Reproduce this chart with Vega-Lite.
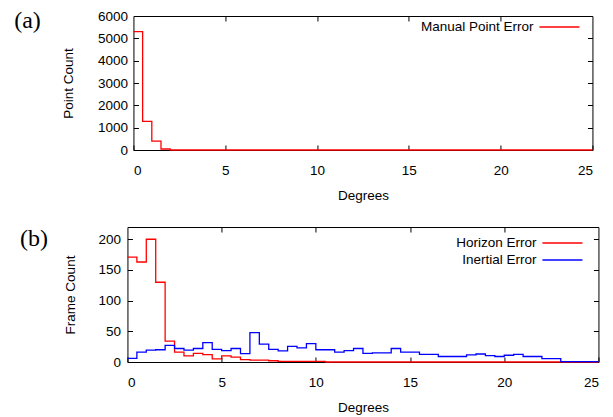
{
  "$schema": "https://vega.github.io/schema/vega-lite/v6.json",
  "padding": {"left": 13, "top": 8, "right": 5, "bottom": 0},
  "background": "white",
  "config": {
    "font": "Liberation Sans",
    "view": {"stroke": "black", "strokeWidth": 1},
    "axis": {
      "grid": false, "domain": false, "tickColor": "black", "tickSize": -5, "tickWidth": 1, "format": "d",
      "labelFont": "Liberation Sans", "labelFontSize": 13.5, "labelColor": "black",
      "titleFont": "Liberation Sans", "titleFontSize": 13.5, "titleFontWeight": "normal", "titleColor": "black"
    },
    "legend": {
      "orient": "none", "symbolType": "M-2.5,0H2.5", "symbolSize": 256, "symbolStrokeWidth": 1.3,
      "labelFont": "Liberation Sans", "labelFontSize": 13.5, "labelColor": "black",
      "labelAlign": "right", "labelOffset": -35, "rowPadding": 1, "padding": 0, "title": null
    },
    "title": {"font": "Liberation Serif", "fontSize": 24, "fontWeight": "normal", "color": "black", "orient": "left", "anchor": "end", "angle": 0, "offset": -6, "baseline": "top"}
  },
  "spacing": 23,
  "center": true,
  "resolve": {"scale": {"color": "independent"}, "legend": {"color": "independent"}},
  "vconcat": [
    {
      "width": 459, "height": 134,
      "title": {"text": "(a)"},
      "data": {"values": [
        {"deg": 0, "count": 5300, "series": "Manual Point Error"},
        {"deg": 0.5, "count": 1280, "series": "Manual Point Error"},
        {"deg": 1, "count": 400, "series": "Manual Point Error"},
        {"deg": 1.5, "count": 45, "series": "Manual Point Error"},
        {"deg": 2, "count": 0, "series": "Manual Point Error"},
        {"deg": 2.5, "count": 0, "series": "Manual Point Error"},
        {"deg": 3, "count": 0, "series": "Manual Point Error"},
        {"deg": 3.5, "count": 0, "series": "Manual Point Error"},
        {"deg": 4, "count": 0, "series": "Manual Point Error"},
        {"deg": 4.5, "count": 0, "series": "Manual Point Error"},
        {"deg": 5, "count": 0, "series": "Manual Point Error"},
        {"deg": 5.5, "count": 0, "series": "Manual Point Error"},
        {"deg": 6, "count": 0, "series": "Manual Point Error"},
        {"deg": 6.5, "count": 0, "series": "Manual Point Error"},
        {"deg": 7, "count": 0, "series": "Manual Point Error"},
        {"deg": 7.5, "count": 0, "series": "Manual Point Error"},
        {"deg": 8, "count": 0, "series": "Manual Point Error"},
        {"deg": 8.5, "count": 0, "series": "Manual Point Error"},
        {"deg": 9, "count": 0, "series": "Manual Point Error"},
        {"deg": 9.5, "count": 0, "series": "Manual Point Error"},
        {"deg": 10, "count": 0, "series": "Manual Point Error"},
        {"deg": 10.5, "count": 0, "series": "Manual Point Error"},
        {"deg": 11, "count": 0, "series": "Manual Point Error"},
        {"deg": 11.5, "count": 0, "series": "Manual Point Error"},
        {"deg": 12, "count": 0, "series": "Manual Point Error"},
        {"deg": 12.5, "count": 0, "series": "Manual Point Error"},
        {"deg": 13, "count": 0, "series": "Manual Point Error"},
        {"deg": 13.5, "count": 0, "series": "Manual Point Error"},
        {"deg": 14, "count": 0, "series": "Manual Point Error"},
        {"deg": 14.5, "count": 0, "series": "Manual Point Error"},
        {"deg": 15, "count": 0, "series": "Manual Point Error"},
        {"deg": 15.5, "count": 0, "series": "Manual Point Error"},
        {"deg": 16, "count": 0, "series": "Manual Point Error"},
        {"deg": 16.5, "count": 0, "series": "Manual Point Error"},
        {"deg": 17, "count": 0, "series": "Manual Point Error"},
        {"deg": 17.5, "count": 0, "series": "Manual Point Error"},
        {"deg": 18, "count": 0, "series": "Manual Point Error"},
        {"deg": 18.5, "count": 0, "series": "Manual Point Error"},
        {"deg": 19, "count": 0, "series": "Manual Point Error"},
        {"deg": 19.5, "count": 0, "series": "Manual Point Error"},
        {"deg": 20, "count": 0, "series": "Manual Point Error"},
        {"deg": 20.5, "count": 0, "series": "Manual Point Error"},
        {"deg": 21, "count": 0, "series": "Manual Point Error"},
        {"deg": 21.5, "count": 0, "series": "Manual Point Error"},
        {"deg": 22, "count": 0, "series": "Manual Point Error"},
        {"deg": 22.5, "count": 0, "series": "Manual Point Error"},
        {"deg": 23, "count": 0, "series": "Manual Point Error"},
        {"deg": 23.5, "count": 0, "series": "Manual Point Error"},
        {"deg": 24, "count": 0, "series": "Manual Point Error"},
        {"deg": 24.5, "count": 0, "series": "Manual Point Error"},
        {"deg": 25, "count": 0, "series": "Manual Point Error"}
      ]},
      "layer": [
        {
          "mark": {"type": "line", "interpolate": "step-after", "strokeWidth": 1.3},
          "encoding": {
            "x": {"field": "deg", "type": "quantitative", "scale": {"domain": [0, 25], "nice": false},
                  "axis": {"title": "Degrees", "values": [0, 5, 10, 15, 20, 25], "labelPadding": 18, "titlePadding": 12}},
            "y": {"field": "count", "type": "quantitative", "scale": {"domain": [0, 6000], "nice": false},
                  "axis": {"title": "Point Count", "values": [0, 1000, 2000, 3000, 4000, 5000, 6000], "labelPadding": 11, "titlePadding": 22}},
            "color": {"field": "series", "type": "nominal", "scale": {"domain": ["Manual Point Error"], "range": ["#ff0000"]},
                      "legend": {"legendX": 417, "legendY": 2}}
          }
        },
        {
          "mark": {"type": "line", "interpolate": "step-after", "strokeOpacity": 0},
          "encoding": {
            "x": {"field": "deg", "type": "quantitative", "scale": {"domain": [0, 25], "nice": false},
                  "axis": {"orient": "top", "labels": false, "title": null, "values": [5, 10, 15, 20]}},
            "y": {"field": "count", "type": "quantitative", "scale": {"domain": [0, 6000], "nice": false},
                  "axis": {"orient": "right", "labels": false, "title": null, "values": [1000, 2000, 3000, 4000, 5000]}},
            "detail": {"field": "series", "type": "nominal"}
          }
        }
      ],
      "resolve": {"axis": {"x": "independent", "y": "independent"}}
    },
    {
      "width": 471, "height": 135,
      "title": {"text": "(b)", "offset": -12},
      "data": {"values": [
        {"deg": 0, "count": 171, "series": "Horizon Error"},
        {"deg": 0.5, "count": 163, "series": "Horizon Error"},
        {"deg": 1, "count": 200, "series": "Horizon Error"},
        {"deg": 1.5, "count": 130, "series": "Horizon Error"},
        {"deg": 2, "count": 34, "series": "Horizon Error"},
        {"deg": 2.5, "count": 16, "series": "Horizon Error"},
        {"deg": 3, "count": 10, "series": "Horizon Error"},
        {"deg": 3.5, "count": 14, "series": "Horizon Error"},
        {"deg": 4, "count": 12, "series": "Horizon Error"},
        {"deg": 4.5, "count": 5, "series": "Horizon Error"},
        {"deg": 5, "count": 10, "series": "Horizon Error"},
        {"deg": 5.5, "count": 8, "series": "Horizon Error"},
        {"deg": 6, "count": 4, "series": "Horizon Error"},
        {"deg": 6.5, "count": 3, "series": "Horizon Error"},
        {"deg": 7, "count": 3, "series": "Horizon Error"},
        {"deg": 7.5, "count": 2, "series": "Horizon Error"},
        {"deg": 8, "count": 1, "series": "Horizon Error"},
        {"deg": 8.5, "count": 1, "series": "Horizon Error"},
        {"deg": 9, "count": 1, "series": "Horizon Error"},
        {"deg": 9.5, "count": 1, "series": "Horizon Error"},
        {"deg": 10, "count": 1, "series": "Horizon Error"},
        {"deg": 10.5, "count": 0, "series": "Horizon Error"},
        {"deg": 11, "count": 0, "series": "Horizon Error"},
        {"deg": 11.5, "count": 0, "series": "Horizon Error"},
        {"deg": 12, "count": 0, "series": "Horizon Error"},
        {"deg": 12.5, "count": 0, "series": "Horizon Error"},
        {"deg": 13, "count": 0, "series": "Horizon Error"},
        {"deg": 13.5, "count": 0, "series": "Horizon Error"},
        {"deg": 14, "count": 0, "series": "Horizon Error"},
        {"deg": 14.5, "count": 0, "series": "Horizon Error"},
        {"deg": 15, "count": 0, "series": "Horizon Error"},
        {"deg": 15.5, "count": 0, "series": "Horizon Error"},
        {"deg": 16, "count": 0, "series": "Horizon Error"},
        {"deg": 16.5, "count": 0, "series": "Horizon Error"},
        {"deg": 17, "count": 0, "series": "Horizon Error"},
        {"deg": 17.5, "count": 0, "series": "Horizon Error"},
        {"deg": 18, "count": 0, "series": "Horizon Error"},
        {"deg": 18.5, "count": 0, "series": "Horizon Error"},
        {"deg": 19, "count": 0, "series": "Horizon Error"},
        {"deg": 19.5, "count": 0, "series": "Horizon Error"},
        {"deg": 20, "count": 0, "series": "Horizon Error"},
        {"deg": 20.5, "count": 0, "series": "Horizon Error"},
        {"deg": 21, "count": 0, "series": "Horizon Error"},
        {"deg": 21.5, "count": 0, "series": "Horizon Error"},
        {"deg": 22, "count": 0, "series": "Horizon Error"},
        {"deg": 22.5, "count": 0, "series": "Horizon Error"},
        {"deg": 23, "count": 0, "series": "Horizon Error"},
        {"deg": 23.5, "count": 0, "series": "Horizon Error"},
        {"deg": 24, "count": 0, "series": "Horizon Error"},
        {"deg": 24.5, "count": 0, "series": "Horizon Error"},
        {"deg": 25, "count": 0, "series": "Horizon Error"},
        {"deg": 0, "count": 6, "series": "Inertial Error"},
        {"deg": 0.5, "count": 16, "series": "Inertial Error"},
        {"deg": 1, "count": 19.5, "series": "Inertial Error"},
        {"deg": 1.5, "count": 20, "series": "Inertial Error"},
        {"deg": 2, "count": 27, "series": "Inertial Error"},
        {"deg": 2.5, "count": 22, "series": "Inertial Error"},
        {"deg": 3, "count": 19.5, "series": "Inertial Error"},
        {"deg": 3.5, "count": 22, "series": "Inertial Error"},
        {"deg": 4, "count": 31.5, "series": "Inertial Error"},
        {"deg": 4.5, "count": 20.5, "series": "Inertial Error"},
        {"deg": 5, "count": 18.5, "series": "Inertial Error"},
        {"deg": 5.5, "count": 22, "series": "Inertial Error"},
        {"deg": 6, "count": 13.5, "series": "Inertial Error"},
        {"deg": 6.5, "count": 48, "series": "Inertial Error"},
        {"deg": 7, "count": 29, "series": "Inertial Error"},
        {"deg": 7.5, "count": 20.5, "series": "Inertial Error"},
        {"deg": 8, "count": 18, "series": "Inertial Error"},
        {"deg": 8.5, "count": 25.5, "series": "Inertial Error"},
        {"deg": 9, "count": 23, "series": "Inertial Error"},
        {"deg": 9.5, "count": 30, "series": "Inertial Error"},
        {"deg": 10, "count": 20, "series": "Inertial Error"},
        {"deg": 10.5, "count": 20, "series": "Inertial Error"},
        {"deg": 11, "count": 16, "series": "Inertial Error"},
        {"deg": 11.5, "count": 18.5, "series": "Inertial Error"},
        {"deg": 12, "count": 22, "series": "Inertial Error"},
        {"deg": 12.5, "count": 14, "series": "Inertial Error"},
        {"deg": 13, "count": 15, "series": "Inertial Error"},
        {"deg": 13.5, "count": 15, "series": "Inertial Error"},
        {"deg": 14, "count": 22, "series": "Inertial Error"},
        {"deg": 14.5, "count": 16, "series": "Inertial Error"},
        {"deg": 15, "count": 16, "series": "Inertial Error"},
        {"deg": 15.5, "count": 12.5, "series": "Inertial Error"},
        {"deg": 16, "count": 12.5, "series": "Inertial Error"},
        {"deg": 16.5, "count": 9, "series": "Inertial Error"},
        {"deg": 17, "count": 9, "series": "Inertial Error"},
        {"deg": 17.5, "count": 9, "series": "Inertial Error"},
        {"deg": 18, "count": 11.5, "series": "Inertial Error"},
        {"deg": 18.5, "count": 13, "series": "Inertial Error"},
        {"deg": 19, "count": 10.5, "series": "Inertial Error"},
        {"deg": 19.5, "count": 9, "series": "Inertial Error"},
        {"deg": 20, "count": 11, "series": "Inertial Error"},
        {"deg": 20.5, "count": 12.5, "series": "Inertial Error"},
        {"deg": 21, "count": 9, "series": "Inertial Error"},
        {"deg": 21.5, "count": 9, "series": "Inertial Error"},
        {"deg": 22, "count": 5.5, "series": "Inertial Error"},
        {"deg": 22.5, "count": 5.5, "series": "Inertial Error"},
        {"deg": 23, "count": 0.5, "series": "Inertial Error"},
        {"deg": 23.5, "count": 0.5, "series": "Inertial Error"},
        {"deg": 24, "count": 0.5, "series": "Inertial Error"},
        {"deg": 24.5, "count": 0.5, "series": "Inertial Error"},
        {"deg": 25, "count": 0.5, "series": "Inertial Error"}
      ]},
      "layer": [
        {
          "mark": {"type": "line", "interpolate": "step-after", "strokeWidth": 1.3},
          "encoding": {
            "x": {"field": "deg", "type": "quantitative", "scale": {"domain": [0, 25], "nice": false},
                  "axis": {"title": "Degrees", "values": [0, 5, 10, 15, 20, 25], "labelPadding": 18, "titlePadding": 12}},
            "y": {"field": "count", "type": "quantitative", "scale": {"domain": [0, 220], "nice": false},
                  "axis": {"title": "Frame Count", "values": [0, 50, 100, 150, 200], "labelPadding": 12, "titlePadding": 20}},
            "color": {"field": "series", "type": "nominal", "scale": {"domain": ["Horizon Error", "Inertial Error"], "range": ["#ff0000", "#0000ff"]},
                      "legend": {"legendX": 426, "legendY": 7}}
          }
        },
        {
          "mark": {"type": "line", "interpolate": "step-after", "strokeOpacity": 0},
          "encoding": {
            "x": {"field": "deg", "type": "quantitative", "scale": {"domain": [0, 25], "nice": false},
                  "axis": {"orient": "top", "labels": false, "title": null, "values": [5, 10, 15, 20]}},
            "y": {"field": "count", "type": "quantitative", "scale": {"domain": [0, 220], "nice": false},
                  "axis": {"orient": "right", "labels": false, "title": null, "values": [50, 100, 150, 200]}},
            "detail": {"field": "series", "type": "nominal"}
          }
        }
      ],
      "resolve": {"axis": {"x": "independent", "y": "independent"}}
    }
  ]
}
